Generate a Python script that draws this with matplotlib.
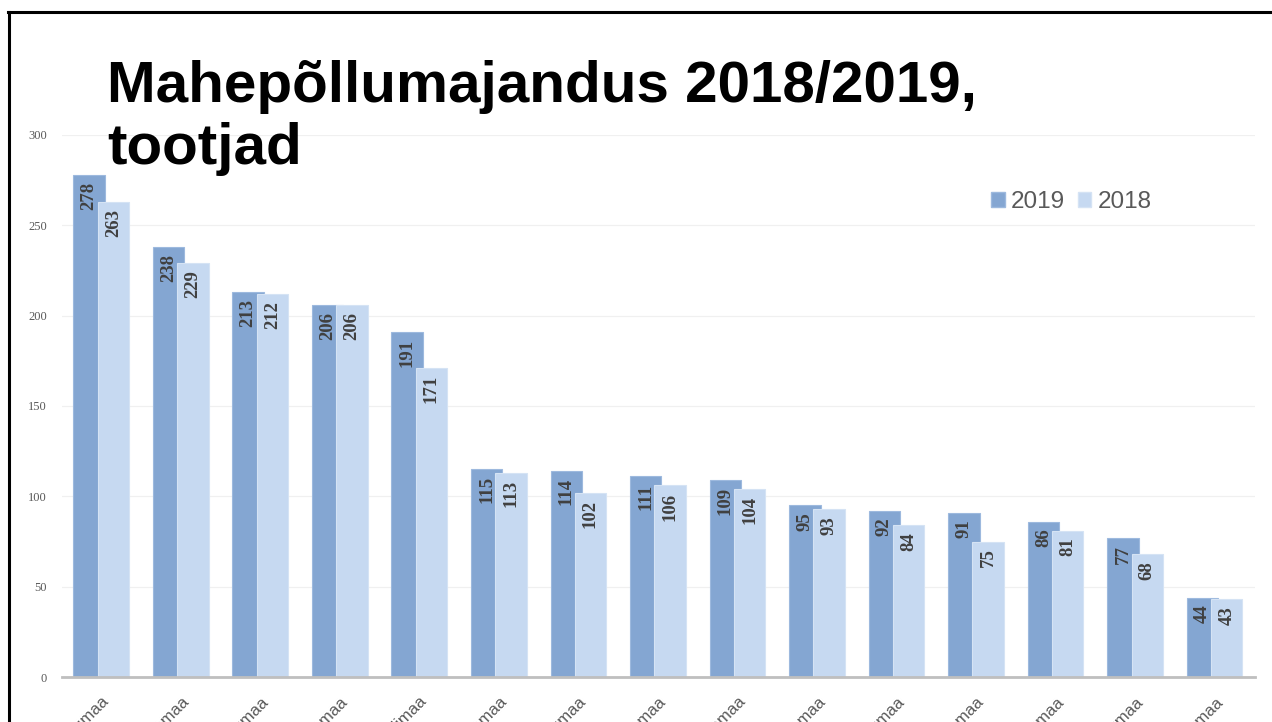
import matplotlib.pyplot as plt
import numpy as np
from matplotlib.lines import Line2D
from matplotlib.patches import Patch

# maakonnad (only the ending "maa" is visible in the slide)
counties = ['Võrumaa', 'Saaremaa', 'Pärnumaa', 'Põlvamaa', 'Viljandimaa',
            'Valgamaa', 'Tartumaa', 'Läänemaa', 'Järvamaa', 'Raplamaa',
            'Lääne-Virumaa', 'Jõgevamaa', 'Harjumaa', 'Hiiumaa', 'Ida-Virumaa']
y2019 = [278, 238, 213, 206, 191, 115, 114, 111, 109, 95, 92, 91, 86, 77, 44]
y2018 = [263, 229, 212, 206, 171, 113, 102, 106, 104, 93, 84, 75, 81, 68, 43]
yticks = [0, 50, 100, 150, 200, 250, 300]

c2019 = '#84A6D2'
c2018 = '#C6D9F1'
label_col = '#404040'
axis_col = '#595959'

fig = plt.figure(figsize=(12.72, 7.22), dpi=100)
ax = fig.add_axes([62 / 1272, 1 - 677 / 722, (1255 - 62) / 1272, (677 - 135) / 722])

x = np.arange(len(counties))
w = 0.395

b1 = ax.bar(x - 0.16, y2019, w, color=c2019, edgecolor='#9DB9DE', linewidth=0.8, zorder=2)
for xi, v in zip(x - 0.16, y2019):
    ax.annotate(str(v), (xi, v), xytext=(0, -5), textcoords='offset points',
                rotation=90, ha='center', va='top', fontsize=13.5, fontweight='bold',
                family='Liberation Serif', color=label_col, zorder=3)
b2 = ax.bar(x + 0.145, y2018, w, color=c2018, edgecolor='#D5E3F4', linewidth=0.8, zorder=4)
for xi, v in zip(x + 0.145, y2018):
    ax.annotate(str(v), (xi, v), xytext=(0, -5), textcoords='offset points',
                rotation=90, ha='center', va='top', fontsize=13.5, fontweight='bold',
                family='Liberation Serif', color=label_col, zorder=5)

ax.set_xlim(-0.5, len(counties) - 0.5)
ax.set_ylim(0, 300)
ax.set_yticks(yticks)
ax.set_yticklabels([str(t) for t in yticks], family='Liberation Serif', fontsize=9, color=axis_col)
ax.set_xticks(x)
ax.set_xticklabels(counties, rotation=45, ha='right', rotation_mode='anchor',
                   family='Liberation Sans', fontsize=12, color=axis_col)
ax.tick_params(axis='both', length=0)
ax.tick_params(axis='y', pad=11)
ax.tick_params(axis='x', pad=12)
ax.grid(axis='y', color='#F0F0F0', linewidth=0.9, zorder=1)
ax.set_axisbelow(True)
for s in ['top', 'right', 'left']:
    ax.spines[s].set_visible(False)
ax.spines['bottom'].set_color('#BFBFBF')
ax.spines['bottom'].set_linewidth(2)
ax.spines['bottom'].set_zorder(6)

handles = [Patch(facecolor=c2019, edgecolor='#9DB9DE', label='2019'),
           Patch(facecolor=c2018, edgecolor='#D5E3F4', label='2018')]
leg = fig.legend(handles=handles, loc='center left', bbox_to_anchor=(979 / 1272, 1 - 202 / 722),
                 ncol=2, frameon=False, borderpad=0, handlelength=0.55, handleheight=0.55,
                 handletextpad=0.25, columnspacing=0.55,
                 prop={'family': 'Liberation Sans', 'size': 17.5})
for t in leg.get_texts():
    t.set_color(axis_col)

fig.text(107 / 1272, 1 - 60 / 722, 'Mahepõllumajandus 2018/2019,\ntootjad',
         ha='left', va='top', fontsize=42, fontweight='bold', family='Liberation Sans',
         color='black', linespacing=1.2)

# slide frame
fig.add_artist(Line2D([8 / 1272, 1], [1 - 12 / 722, 1 - 12 / 722], transform=fig.transFigure,
                      color='black', linewidth=2.2))
fig.add_artist(Line2D([9 / 1272, 9 / 1272], [0, 1 - 12 / 722], transform=fig.transFigure,
                      color='black', linewidth=2.2))

fig.savefig('out.png', dpi=100)
